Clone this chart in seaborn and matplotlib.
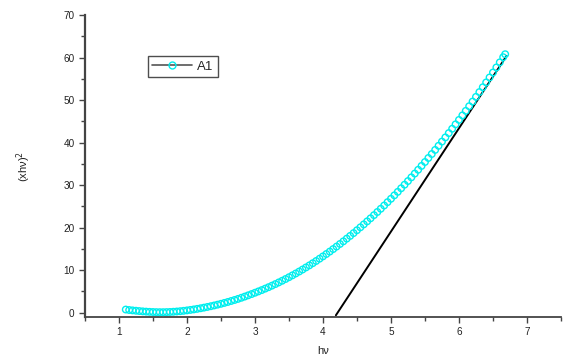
import matplotlib
matplotlib.use("Agg")
import matplotlib.pyplot as plt
from matplotlib.lines import Line2D
from matplotlib.ticker import MultipleLocator
import seaborn as sns
import pandas as pd

# ---- data ----
hv = [1.10, 1.15, 1.20, 1.25, 1.30, 1.35, 1.40, 1.45, 1.50, 1.55,
      1.60, 1.65, 1.70, 1.75, 1.80, 1.85, 1.90, 1.95, 2.00, 2.05,
      2.10, 2.15, 2.20, 2.25, 2.30, 2.35, 2.40, 2.45, 2.50, 2.55,
      2.60, 2.65, 2.70, 2.75, 2.80, 2.85, 2.90, 2.95, 3.00, 3.05,
      3.10, 3.15, 3.20, 3.25, 3.30, 3.35, 3.40, 3.45, 3.50, 3.55,
      3.60, 3.65, 3.70, 3.75, 3.80, 3.85, 3.90, 3.95, 4.00, 4.05,
      4.10, 4.15, 4.20, 4.25, 4.30, 4.35, 4.40, 4.45, 4.50, 4.55,
      4.60, 4.65, 4.70, 4.75, 4.80, 4.85, 4.90, 4.95, 5.00, 5.05,
      5.10, 5.15, 5.20, 5.25, 5.30, 5.35, 5.40, 5.45, 5.50, 5.55,
      5.60, 5.65, 5.70, 5.75, 5.80, 5.85, 5.90, 5.95, 6.00, 6.05,
      6.10, 6.15, 6.20, 6.25, 6.30, 6.35, 6.40, 6.45, 6.50, 6.55,
      6.60, 6.65, 6.68]
a1 = [0.75, 0.64, 0.55, 0.47, 0.39, 0.32, 0.26, 0.21, 0.17, 0.14,
      0.13, 0.13, 0.15, 0.18, 0.23, 0.29, 0.36, 0.45, 0.55, 0.66,
      0.78, 0.91, 1.05, 1.20, 1.36, 1.53, 1.71, 1.90, 2.10, 2.31,
      2.53, 2.76, 3.00, 3.25, 3.52, 3.80, 4.09, 4.39, 4.70, 5.01,
      5.33, 5.67, 6.01, 6.37, 6.74, 7.13, 7.52, 7.93, 8.35, 8.79,
      9.23, 9.69, 10.16, 10.65, 11.14, 11.65, 12.17, 12.71, 13.25, 13.81,
      14.38, 14.97, 15.56, 16.17, 16.79, 17.43, 18.07, 18.73, 19.40, 20.09,
      20.78, 21.49, 22.21, 22.95, 23.69, 24.45, 25.22, 26.01, 26.80, 27.61,
      28.43, 29.27, 30.11, 30.97, 31.84, 32.73, 33.62, 34.53, 35.45, 36.39,
      37.33, 38.29, 39.26, 40.25, 41.24, 42.25, 43.27, 44.31, 45.35, 46.41,
      47.48, 48.57, 49.66, 50.77, 51.89, 53.03, 54.17, 55.33, 56.50, 57.69,
      58.88, 60.10, 60.80]
fit_x = [4.19, 6.70]
fit_y = [-0.6, 60.4]
x_ticks = [1, 2, 3, 4, 5, 6, 7]
y_ticks = [0, 10, 20, 30, 40, 50, 60, 70]

sns.set_theme(style="ticks")
plt.rcParams['font.family'] = ['Liberation Sans', 'DejaVu Sans']

fig = plt.figure(figsize=(5.68, 3.56), dpi=100)
ax = fig.add_axes([0.1496, 0.1096, 0.838, 0.848])

df = pd.DataFrame({"hv": hv, "A1": a1})
sns.scatterplot(data=df, x="hv", y="A1", ax=ax, marker="o", s=22,
                facecolor="none", edgecolor="#00EEEE", linewidth=1.0,
                legend=False, zorder=3)
sns.lineplot(x=fit_x, y=fit_y, ax=ax, color="black", linewidth=1.4,
             legend=False, zorder=2)

ax.set_xlim(0.5, 7.5)
ax.set_ylim(-1, 70)
ax.set_xticks(x_ticks)
ax.set_yticks(y_ticks)
ax.xaxis.set_minor_locator(MultipleLocator(0.5))
ax.yaxis.set_minor_locator(MultipleLocator(5))

for s in ["top", "right"]:
    ax.spines[s].set_visible(False)
for s in ["left", "bottom"]:
    ax.spines[s].set_color("#444444")
ax.spines["left"].set_linewidth(1.6)
ax.spines["bottom"].set_linewidth(1.3)

ax.tick_params(axis="both", which="major", direction="out", length=4.5,
               width=1.0, color="#444444", labelsize=7.2, labelcolor="#222222",
               pad=3)
ax.tick_params(axis="both", which="minor", direction="out", length=3,
               width=1.0, color="#444444")

ax.set_xlabel("hν", fontsize=8, labelpad=6, color="#222222")
ax.set_ylabel("(xhν)$^2$", fontsize=8, labelpad=22, color="#222222")

handle = Line2D([0], [0], color="#555555", linewidth=1.2, marker="o",
                markersize=5, markerfacecolor="none",
                markeredgecolor="#00EEEE", markeredgewidth=1.0)
leg = ax.legend([handle], ["A1"], loc="upper left",
                bbox_to_anchor=(0.132, 0.865), fontsize=9.5, frameon=True,
                fancybox=False, shadow=False, handlelength=3.0,
                borderpad=0.35, handletextpad=0.4, borderaxespad=0)
leg.get_frame().set_edgecolor("#222222")
leg.get_frame().set_linewidth(1.0)

fig.savefig("out.png", dpi=100)
